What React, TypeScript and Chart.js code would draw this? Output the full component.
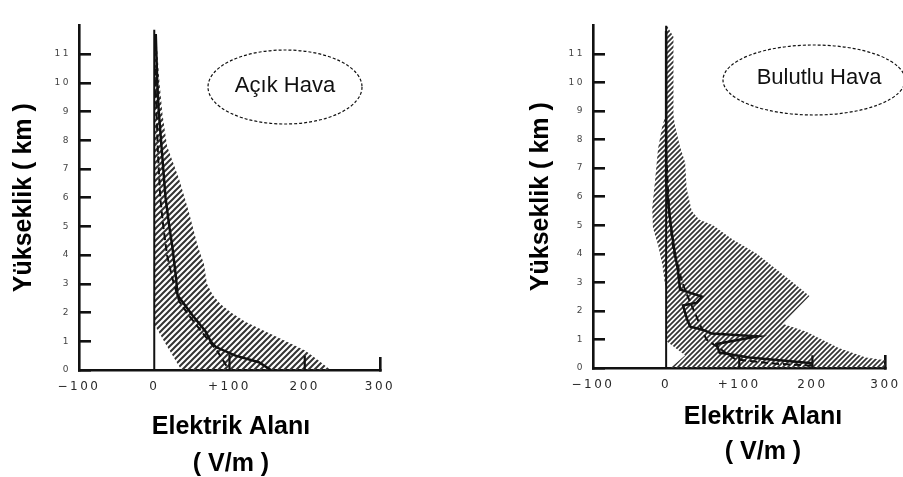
import React, { useEffect, useRef } from "react";
import { Chart, registerables } from "chart.js";

Chart.register(...registerables);

// ---- shared axes -------------------------------------------------------
const FIELD_TICKS = [-100, 0, 100, 200, 300];
const FIELD_TICK_LABELS = ["−100", "0", "+100", "200", "300"];
const HEIGHT_TICKS = [0, 1, 2, 3, 4, 5, 6, 7, 8, 9, 10, 11];

const Y_TITLE = "Yükseklik ( km )";
const X_TITLE = ["Elektrik Alanı", "( V/m )"];

// ---- clear weather: [field V/m, height km] --------------------------------
const clearBandInner: [number, number][] = [
  [0, 11.8], [0, 1.6], [13, 1.0], [36, 0],
];
const clearBandOuter: [number, number][] = [
  [1, 11.8], [3, 11.5], [7, 10], [11, 8.9], [17, 7.8], [33, 6.65], [46, 5.5],
  [57, 4.4], [62, 4.0], [66, 3.7], [70, 3.0], [78, 2.6], [88, 2.3], [102, 2.0],
  [121, 1.68], [148, 1.34], [175, 1.0], [201, 0.67], [218, 0.34], [232, 0.05], [232, 0],
];
const clearMean: [number, number][] = [
  [2, 11.7], [4, 10], [6, 9], [9, 8], [12, 7], [15, 6], [20, 5], [24, 4.3],
  [29, 3.2], [31, 2.6], [51, 1.9], [68, 1.35], [75, 1.0], [82, 0.8], [108, 0.5],
  [139, 0.27], [155, 0],
];
const clearMedian: [number, number][] = [
  [1, 10.5], [3, 9], [5, 7.5], [8, 6], [12, 5], [17, 4], [24, 3.2], [33, 2.4],
  [46, 1.9], [58, 1.5], [70, 1.1], [84, 0.65], [97, 0.1],
];
const clearMarkerField = [100, 200];
const clearMarkerTop = [0.55, 0.5];
const clearZeroTop = 11.85;

// ---- cloudy weather: [field V/m, height km] -------------------------------
const cloudyBandInner: [number, number][] = [
  [0, 12], [0, 8.9], [-5, 8.5], [-11, 7.7], [-15, 6.6], [-19, 5.6], [-18, 4.9],
  [-11, 4.3], [-5, 3.6], [-2, 3.0], [0, 2.8], [0, 0.95], [26, 0.45], [6, 0],
];
const cloudyBandOuter: [number, number][] = [
  [1, 12], [10, 11.6], [10, 8.85], [12, 8.5], [19, 7.75], [26, 7.2], [28, 6.3],
  [35, 5.5], [45, 5.2], [64, 5.0], [91, 4.5], [124, 4.0], [173, 3.0], [196, 2.52],
  [159, 1.55], [191, 1.28], [236, 0.7], [273, 0.37], [300, 0.27], [300, 0],
];
const cloudyMean: [number, number][] = [
  [0, 11.8], [0, 6.5], [4, 5.5], [8, 4.7], [12, 4.0], [16, 3.45], [19, 2.75],
  [49, 2.5], [42, 2.29], [23, 2.19], [29, 1.68], [33, 1.45], [49, 1.35],
  [62, 1.21], [125, 1.11], [69, 0.84], [73, 0.54], [114, 0.37], [200, 0.17],
];
const cloudyMedian: [number, number][] = [
  [0, 7.5], [3, 6], [6, 5], [10, 4.1], [16, 3.6], [22, 3.0], [28, 2.6],
  [55, 1.0], [95, 0.3], [150, 0.15], [200, 0.08],
];
const cloudyMarkerField = [100, 200];
const cloudyMarkerTop = [0.4, 0.45];
const cloudyZeroTop = 12;

// ---- panel geometry (canvas pixels) -----------------------------------
interface Frame {
  left: number;
  width: number;
  height: number;
  area: { left: number; right: number; top: number; bottom: number };
  yTitleX: number;
  xTitleX: number;
  xTitleY: number[];
  ellipse: { cx: number; cy: number; rx: number; ry: number };
  captionX: number;
  captionY: number;
  hatch: number;
}

const clearFrame: Frame = {
  left: 0,
  width: 450,
  height: 477,
  area: { left: 79, right: 380, top: 10, bottom: 370 },
  yTitleX: 24,
  xTitleX: 231,
  xTitleY: [427, 464],
  ellipse: { cx: 285, cy: 87, rx: 77, ry: 37 },
  captionX: 285,
  captionY: 86,
  hatch: 6,
};

const cloudyFrame: Frame = {
  left: 450,
  width: 470,
  height: 477,
  area: { left: 143, right: 437, top: 12, bottom: 368 },
  yTitleX: 91,
  xTitleX: 313,
  xTitleY: [417, 452],
  ellipse: { cx: 364, cy: 80, rx: 91, ry: 35 },
  captionX: 369,
  captionY: 78,
  hatch: 5,
};

interface Panel {
  caption: string;
  bandInner: [number, number][];
  bandOuter: [number, number][];
  mean: [number, number][];
  median: [number, number][];
  markerField: number[];
  markerTop: number[];
  zeroTop: number;
}

const clearPanel: Panel = {
  caption: "Açık Hava",
  bandInner: clearBandInner,
  bandOuter: clearBandOuter,
  mean: clearMean,
  median: clearMedian,
  markerField: clearMarkerField,
  markerTop: clearMarkerTop,
  zeroTop: clearZeroTop,
};

const cloudyPanel: Panel = {
  caption: "Bulutlu Hava",
  bandInner: cloudyBandInner,
  bandOuter: cloudyBandOuter,
  mean: cloudyMean,
  median: cloudyMedian,
  markerField: cloudyMarkerField,
  markerTop: cloudyMarkerTop,
  zeroTop: cloudyZeroTop,
};

const INK = "#111";
const TITLE_FONT = 'bold 25px "Liberation Sans", Arial, sans-serif';
const CAPTION_FONT = '22px "Liberation Sans", Arial, sans-serif';

const toPoints = (pairs: [number, number][]) => pairs.map(([e, h]) => ({ x: e, y: h }));

// diagonal "/" hatching used for the spread band
function makeHatch(ctx: CanvasRenderingContext2D, size: number) {
  const tile = document.createElement("canvas");
  tile.width = size;
  tile.height = size;
  const g = tile.getContext("2d")!;
  g.strokeStyle = "#333";
  g.lineWidth = size > 5 ? 2 : 1.7;
  g.beginPath();
  g.moveTo(-1, size + 1);
  g.lineTo(size + 1, -1);
  g.moveTo(-size / 2 - 1, size / 2 + 1);
  g.lineTo(size / 2 + 1, -size / 2 - 1);
  g.moveTo(size / 2 - 1, size * 1.5 + 1);
  g.lineTo(size * 1.5 + 1, size / 2 - 1);
  g.stroke();
  return ctx.createPattern(tile, "repeat")!;
}

// titles, tick-label spacing and the weather caption ellipse
const panelDecor = {
  id: "panelDecor",
  beforeDraw(chart: any) {
    chart.ctx.letterSpacing = "2.5px";
  },
  afterDraw(chart: any, _args: any, opts: any) {
    const ctx: CanvasRenderingContext2D = chart.ctx;
    const a = chart.chartArea;
    ctx.save();
    (ctx as any).letterSpacing = "0px";
    ctx.fillStyle = "#000";
    ctx.textAlign = "center";
    ctx.textBaseline = "middle";

    ctx.font = TITLE_FONT;
    ctx.save();
    ctx.translate(opts.yTitleX, (a.top + a.bottom) / 2);
    ctx.rotate(-Math.PI / 2);
    ctx.fillText(Y_TITLE, 0, 0);
    ctx.restore();

    X_TITLE.forEach((line, i) => ctx.fillText(line, opts.xTitleX, opts.xTitleY[i]));

    ctx.strokeStyle = INK;
    ctx.lineWidth = 1.2;
    ctx.setLineDash([3, 2]);
    ctx.beginPath();
    ctx.ellipse(opts.cx, opts.cy, opts.rx, opts.ry, 0, 0, Math.PI * 2);
    ctx.stroke();
    ctx.setLineDash([]);

    ctx.font = CAPTION_FONT;
    ctx.fillStyle = INK;
    ctx.fillText(opts.caption, opts.captionX, opts.captionY);
    ctx.restore();
  },
};

function makePanel(canvas: HTMLCanvasElement, p: Panel, f: Frame) {
  const ctx = canvas.getContext("2d")!;
  const band = [...p.bandInner, ...p.bandOuter.slice().reverse()];
  const markers = p.markerField.map((e, i) => ({
    label: "marker",
    data: [{ x: e, y: 0 }, { x: e, y: p.markerTop[i] }],
    borderColor: INK,
    borderWidth: 2.2,
    pointRadius: 0,
    fill: false,
    order: 1,
  }));

  return new Chart(ctx, {
    type: "line",
    data: {
      datasets: [
        {
          label: "band",
          data: toPoints(band),
          fill: "shape",
          backgroundColor: makeHatch(ctx, f.hatch),
          borderColor: "rgba(0,0,0,0)",
          borderWidth: 0,
          pointRadius: 0,
          tension: 0,
          order: 3,
        },
        {
          label: "zero",
          data: [{ x: 0, y: 0 }, { x: 0, y: p.zeroTop }],
          borderColor: INK,
          borderWidth: 2,
          pointRadius: 0,
          fill: false,
          order: 2,
        },
        {
          label: "mean",
          data: toPoints(p.mean),
          borderColor: INK,
          borderWidth: 2.5,
          pointRadius: 0,
          fill: false,
          tension: 0,
          order: 1,
        },
        {
          label: "median",
          data: toPoints(p.median),
          borderColor: INK,
          borderWidth: 2,
          borderDash: [7, 4],
          pointRadius: 0,
          fill: false,
          tension: 0,
          order: 1,
        },
        ...markers,
      ] as any,
    },
    options: {
      animation: false,
      responsive: false,
      devicePixelRatio: 1,
      events: [],
      layout: {
        padding: { left: 0, top: f.area.top, right: f.width - f.area.right, bottom: 0 },
      },
      plugins: {
        legend: { display: false },
        tooltip: { enabled: false },
        panelDecor: {
          yTitleX: f.yTitleX,
          xTitleX: f.xTitleX,
          xTitleY: f.xTitleY,
          cx: f.ellipse.cx,
          cy: f.ellipse.cy,
          rx: f.ellipse.rx,
          ry: f.ellipse.ry,
          caption: p.caption,
          captionX: f.captionX,
          captionY: f.captionY,
        },
      } as any,
      scales: {
        x: {
          type: "linear",
          min: FIELD_TICKS[0],
          max: FIELD_TICKS[FIELD_TICKS.length - 1],
          afterBuildTicks: (s: any) => {
            s.ticks = FIELD_TICKS.map((v) => ({ value: v }));
          },
          afterFit: (s: any) => {
            s.height = f.height - f.area.bottom;
          },
          border: { display: true, color: INK, width: 2.6 },
          grid: {
            drawOnChartArea: false,
            drawTicks: true,
            tickLength: -13,
            lineWidth: 2.6,
            color: (c: any) =>
              c.tick && c.tick.value === FIELD_TICKS[FIELD_TICKS.length - 1] ? INK : "rgba(0,0,0,0)",
          },
          ticks: {
            autoSkip: false,
            maxRotation: 0,
            padding: 23,
            color: "#2a2a2a",
            font: { family: '"DejaVu Sans", sans-serif', size: 12 },
            callback: (v: any) => FIELD_TICK_LABELS[FIELD_TICKS.indexOf(Number(v))],
          },
        },
        y: {
          type: "linear",
          min: 0,
          max: 12,
          afterBuildTicks: (s: any) => {
            s.ticks = HEIGHT_TICKS.map((v) => ({ value: v }));
          },
          afterFit: (s: any) => {
            s.width = f.area.left;
          },
          border: { display: true, color: INK, width: 2.6 },
          grid: {
            drawOnChartArea: false,
            drawTicks: true,
            tickLength: -12,
            lineWidth: 2.6,
            color: INK,
          },
          ticks: {
            autoSkip: false,
            padding: 20,
            color: "#444",
            font: { family: '"DejaVu Sans", sans-serif', size: 9 },
          },
        },
      },
    },
    plugins: [panelDecor],
  } as any);
}

export default function App() {
  const leftRef = useRef<HTMLCanvasElement>(null);
  const rightRef = useRef<HTMLCanvasElement>(null);

  useEffect(() => {
    const charts = [
      makePanel(leftRef.current!, clearPanel, clearFrame),
      makePanel(rightRef.current!, cloudyPanel, cloudyFrame),
    ];
    return () => charts.forEach((c) => c.destroy());
  }, []);

  const frames = [clearFrame, cloudyFrame];
  const refs = [leftRef, rightRef];

  return (
    <div
      style={{
        position: "fixed",
        left: 0,
        top: 0,
        width: 903,
        height: 477,
        overflow: "hidden",
        background: "#fff",
      }}
    >
      {frames.map((f, i) => (
        <canvas
          key={i}
          ref={refs[i]}
          width={f.width}
          height={f.height}
          style={{ position: "absolute", left: f.left, top: 0, width: f.width, height: f.height }}
        />
      ))}
    </div>
  );
}
